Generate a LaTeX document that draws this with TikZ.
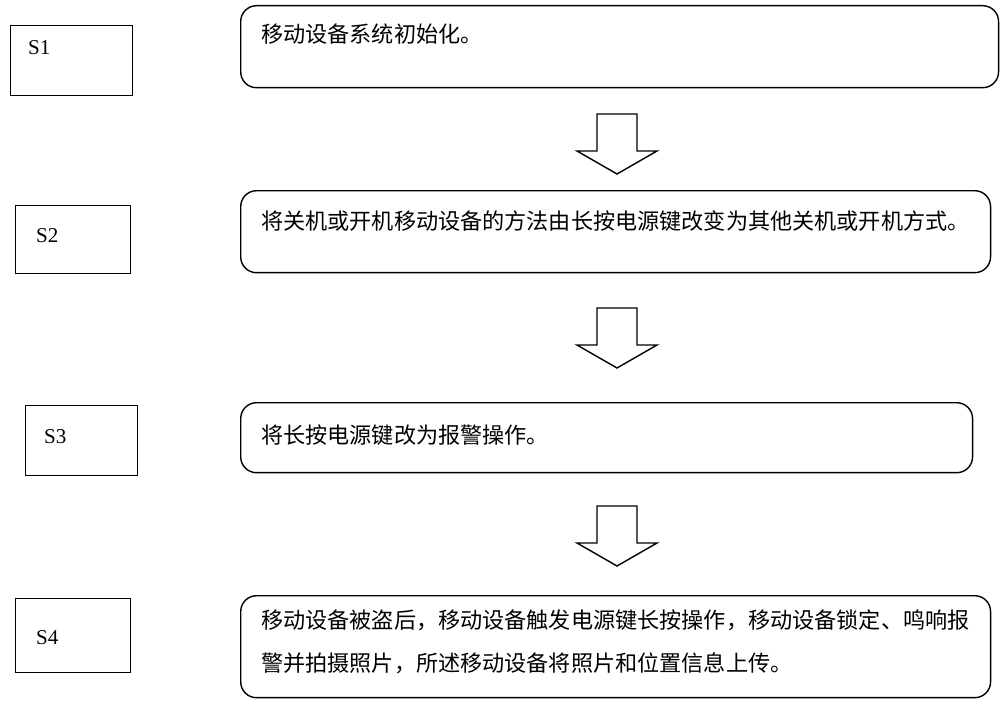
\documentclass[tikz,border=0pt]{standalone}
\usepackage{fontspec}
\setmainfont{Liberation Serif}
\newfontfamily\cjk{Noto Sans CJK SC}
\usetikzlibrary{positioning}

\tikzset{
  stepbox/.style={draw, line width=0.8pt, anchor=north west, inner sep=0pt},
  roundbox/.style={draw, line width=0.8pt, rounded corners=9pt, anchor=north west, inner sep=0pt},
  steptext/.style={anchor=north west, font=\fontsize{12pt}{14pt}\selectfont},
  boxtext/.style={anchor=north west, align=left, font=\cjk\fontsize{12.6pt}{21pt}\selectfont}
}

\newcommand{\hollowarrow}[2]{% x centre, y top
  \draw[line width=0.8pt] (#1-20,-#2) -- (#1+20,-#2) -- (#1+20,-#2-37) -- (#1+40,-#2-37)
    -- (#1,-#2-60) -- (#1-40,-#2-37) -- (#1-20,-#2-37) -- cycle;
}

\begin{document}
\begin{tikzpicture}[x=0.02cm, y=0.02cm]
    \useasboundingbox (0,0) rectangle (1000,-706);

    % step labels
    \node[stepbox, text width=2.44cm, minimum height=1.4cm] (s1) at (10,-25) {};
    \node[stepbox, text width=2.3cm, minimum height=1.36cm] (s2) at (15,-205) {};
    \node[stepbox, text width=2.24cm, minimum height=1.4cm] (s3) at (25,-405) {};
    \node[stepbox, text width=2.3cm, minimum height=1.48cm] (s4) at (15,-598) {};
    \node[steptext] (l1) at (22,-34) {S1};
    \node[steptext] (l2) at (30,-222) {S2};
    \node[steptext] (l3) at (38,-423) {S3};
    \node[steptext] (l4) at (30,-624) {S4};

    % process boxes
    \node[roundbox, text width=15.16cm, minimum height=1.64cm] (r1) at (240,-5) {};
    \node[roundbox, text width=15cm, minimum height=1.64cm] (r2) at (240,-190) {};
    \node[roundbox, text width=14.64cm, minimum height=1.4cm] (r3) at (240,-402) {};
    \node[roundbox, text width=15cm, minimum height=2.04cm] (r4) at (240,-595) {};

    \node[boxtext] (t1) at (255,-18) {移动设备系统初始化。};
    \node[boxtext] (t2) at (255,-204) {将关机或开机移动设备的方法由长按电源键改变为其他关机或开机方式。};
    \node[boxtext] (t3) at (255,-419) {将长按电源键改为报警操作。};
    \node[boxtext] (t4) at (255,-604) {移动设备被盗后，移动设备触发电源键长按操作，移动设备锁定、鸣响报\\[3pt]警并拍摄照片，所述移动设备将照片和位置信息上传。};

    % hollow arrows
    \hollowarrow{617}{114}
    \hollowarrow{617}{308}
    \hollowarrow{617}{506}
\end{tikzpicture}
\end{document}
